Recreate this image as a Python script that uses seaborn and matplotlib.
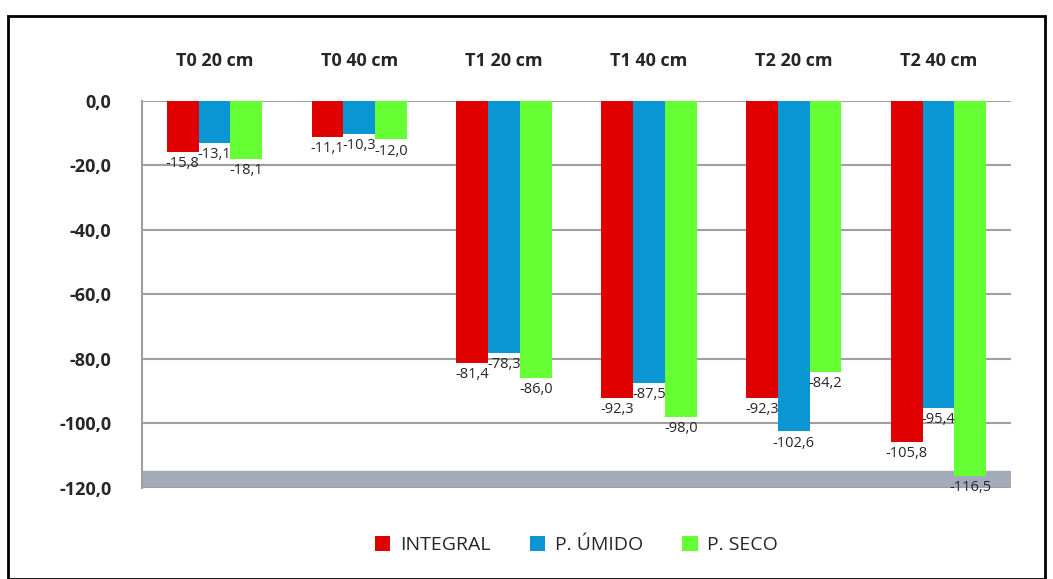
import matplotlib
matplotlib.use("Agg")
import matplotlib.pyplot as plt
import seaborn as sns
import pandas as pd
from matplotlib.patches import Rectangle

categories = ["T0 20 cm", "T0 40 cm", "T1 20 cm", "T1 40 cm", "T2 20 cm", "T2 40 cm"]
series = ["INTEGRAL", "P. ÚMIDO", "P. SECO"]
integral = [-15.8, -11.1, -81.4, -92.3, -92.3, -105.8]
p_umido = [-13.1, -10.3, -78.3, -87.5, -102.6, -95.4]
p_seco = [-18.1, -12.0, -86.0, -98.0, -84.2, -116.5]
yticks = [0, -20, -40, -60, -80, -100, -120]
colors = ["#e00000", "#0a96d2", "#66ff33"]

rows = []
for s, vals in zip(series, [integral, p_umido, p_seco]):
    for c, v in zip(categories, vals):
        rows.append({"cat": c, "serie": s, "valor": v})
df = pd.DataFrame(rows)

sns.set_theme(style="white")
plt.rcParams["font.family"] = ["Open Sans", "DejaVu Sans"]

fig = plt.figure(figsize=(10.53, 5.79), dpi=100)
ax = fig.add_axes([0.135, 0.158, 0.825, 0.668])

ax.axhspan(-120, -115, color="#a3abb8", zorder=0)
sns.barplot(data=df, x="cat", y="valor", hue="serie", palette=colors,
            width=0.66, ax=ax, zorder=3, saturation=1, legend=True, linewidth=0)

ax.set_ylim(-120, 0)
ax.set_yticks(yticks)
ax.set_yticklabels([f"{t:.1f}".replace(".", ",") for t in yticks],
                   fontsize=13, fontweight="bold")
ax.yaxis.grid(True, color="#a0a0a0", linewidth=1.5, zorder=0)
ax.xaxis.tick_top()
ax.tick_params(axis="x", length=0, pad=22, labelsize=13)
for lbl in ax.get_xticklabels():
    lbl.set_fontweight("bold")
ax.tick_params(axis="y", length=0, pad=22)
ax.set_xlabel("")
ax.set_ylabel("")
for sp in ["top", "right", "bottom"]:
    ax.spines[sp].set_visible(False)
ax.spines["left"].set_color("#a0a0a0")
ax.spines["left"].set_linewidth(1.5)

for cont in ax.containers:
    ax.bar_label(cont, labels=[f"{v:.1f}".replace(".", ",") for v in cont.datavalues],
                 padding=3, fontsize=10.5)

leg = ax.legend(loc="upper center", bbox_to_anchor=(0.5, -0.08), ncol=3,
                frameon=False, fontsize=14, handlelength=0.8, handleheight=0.8,
                columnspacing=2.0, handletextpad=0.5)

fig.patches.append(Rectangle((0.008, 0.0), 0.984, 0.973, transform=fig.transFigure,
                             fill=False, edgecolor="black", linewidth=2))

fig.savefig("out.png", dpi=100)
